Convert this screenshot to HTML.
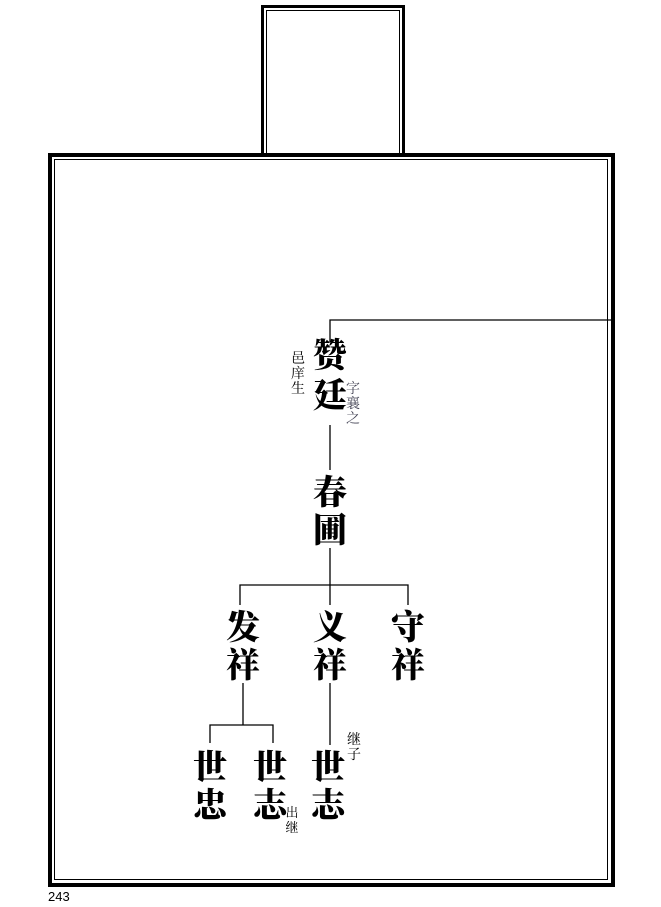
<!DOCTYPE html>
<html><head><meta charset="utf-8"><style>
body{margin:0;background:#fff;width:661px;height:907px;overflow:hidden;position:relative}
.b{position:absolute;box-sizing:border-box}
.t{position:absolute;font-family:"Liberation Serif","Noto Serif CJK SC",serif;font-weight:900;font-size:34px;line-height:38px;width:40px;text-align:center;color:#000}
.s{position:absolute;font-family:"Liberation Serif","Noto Serif CJK SC",serif;font-size:14px;line-height:15px;width:14px;text-align:center;color:#000}
</style></head><body>
<div class="b" style="left:261px;top:5px;width:144px;height:160px;border:3px solid #000;border-bottom:none"></div>
<div class="b" style="left:266px;top:10px;width:134px;height:150px;border:1px solid #000;border-bottom:none"></div>
<div class="b" style="left:48px;top:153px;width:567px;height:734px;border:4px solid #000;background:#fff"></div>
<div class="b" style="left:54px;top:159px;width:554px;height:721px;border:1.5px solid #000"></div>
<svg class="b" style="left:0;top:0" width="661" height="907" stroke="#000" stroke-width="1.3" fill="none">
<path d="M330 342V320H612"/>
<path d="M330 425V470"/>
<path d="M330 548V585M240 605V585H408V605M330 585V605"/>
<path d="M243 683V725M210 743V725H273V743"/>
<path d="M330 683V745"/>
</svg>
<div class="t" style="left:310px;top:337px;line-height:40px">赞<br>廷</div>
<div class="s" style="left:291px;top:352px">邑<br>庠<br>生</div>
<div class="s" style="left:346px;top:382px;color:#445">字<br>襄<br>之</div>
<div class="t" style="left:310px;top:475px">春<br>圃</div>
<div class="t" style="left:223px;top:610px">发<br>祥</div>
<div class="t" style="left:310px;top:610px">义<br>祥</div>
<div class="t" style="left:388px;top:610px">守<br>祥</div>
<div class="t" style="left:190px;top:750px">世<br>忠</div>
<div class="t" style="left:250px;top:750px">世<br>志</div>
<div class="t" style="left:308px;top:750px">世<br>志</div>
<div class="s" style="left:347px;top:733px">继<br>子</div>
<div class="s" style="left:285px;top:805px;font-size:13px;line-height:15px">出<br>继</div>
<div style="position:absolute;left:48px;top:889px;font-family:'Liberation Sans',sans-serif;font-size:13px">243</div>
</body></html>
